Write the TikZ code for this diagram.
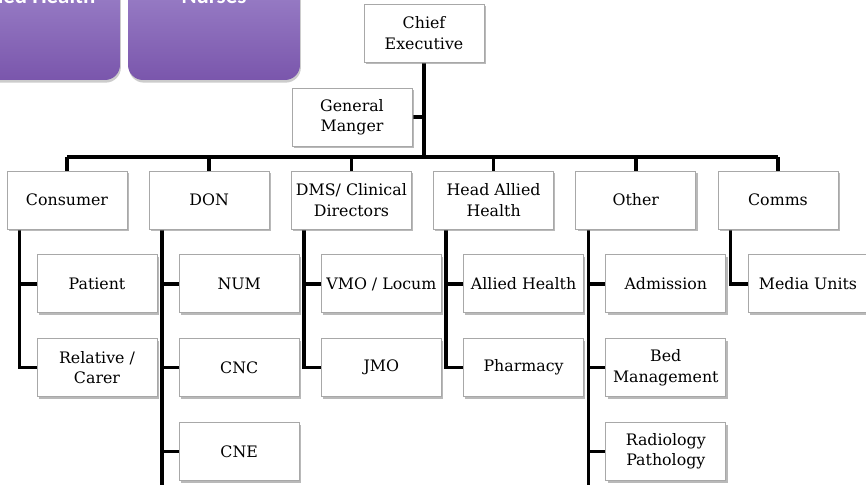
\documentclass[tikz,border=0pt]{standalone}
\usepackage{fontspec}
\setmainfont{DejaVu Serif}
\newfontfamily\tilefont{Carlito}
\usetikzlibrary{positioning,calc,shadows}

\pgfdeclarelayer{bg}
\pgfsetlayers{bg,main}

\definecolor{tiletop}{HTML}{A28ACE}
\definecolor{tilebot}{HTML}{7A56AC}
\definecolor{boxline}{HTML}{A8A8A8}

\tikzset{
  unit/.style={draw=boxline, fill=white, line width=0.5pt,
    minimum width=2.4cm, minimum height=1.16cm, inner sep=1pt,
    align=center, font=\fontsize{9}{11.5}\selectfont,
    drop shadow={shadow xshift=1pt, shadow yshift=-1.2pt, fill=black!50, opacity=0.55}},
  tile/.style={rounded corners=0.3cm, top color=tiletop, bottom color=tilebot,
    minimum width=3.44cm, minimum height=2.4cm,
    drop shadow={shadow xshift=0.5pt, shadow yshift=-1.5pt, fill=black!40, opacity=0.5}},
  tiletext/.style={text=white, font=\tilefont\bfseries\fontsize{13}{15}\selectfont, anchor=base},
  link/.style={line width=2pt, line join=miter},
}

\begin{document}
\begin{tikzpicture}[x=0.02cm, y=-0.02cm, node distance=0.5cm]

  \useasboundingbox (0,0) rectangle (866,484);
  \clip (0,0) rectangle (866,484);

  % purple tiles cut by the top edge
  \node[tile] (alliedtile) at (34,20) {};
  \node[tile] (nursetile) at (214,20) {};
  \node[tiletext] (alliedtext) at (34,3) {Allied Health};
  \node[tiletext] (nursetext) at (214,3) {Nurses};

  % top of the chart
  \node[unit] (ceo) at (424,33) {Chief\\Executive};
  \node[unit] (gm) at (352,117) {General\\Manger};
  \coordinate (bar) at (0,157);
  \coordinate (bottom) at (0,500);

  % second row
  \foreach \nm/\txt [count=\i] in {cons/Consumer, don/DON, dms/{DMS/ Clinical\\Directors},
      hah/{Head Allied\\Health}, oth/Other, com/Comms} {
    \node[unit] (\nm) at (67+142.2*\i-142.2,200) {\txt};
  };

  % third rows
  \node[unit, below=of cons, xshift=0.6cm] (pat) {Patient};
  \node[unit, below=of pat] (rel) {Relative /\\Carer};
  \node[unit, below=of don, xshift=0.6cm] (num) {NUM};
  \node[unit, below=of num] (cnc) {CNC};
  \node[unit, below=of cnc] (cne) {CNE};
  \node[unit, below=of dms, xshift=0.6cm] (vmo) {VMO / Locum};
  \node[unit, below=of vmo] (jmo) {JMO};
  \node[unit, below=of hah, xshift=0.6cm] (ahl) {Allied Health};
  \node[unit, below=of ahl] (pha) {Pharmacy};
  \node[unit, below=of oth, xshift=0.6cm] (adm) {Admission};
  \node[unit, below=of adm] (bed) {Bed\\Management};
  \node[unit, below=of bed] (rad) {Radiology\\Pathology};
  \node[unit, below=of com, xshift=0.6cm] (med) {Media Units};

  \begin{pgfonlayer}{bg}
  \draw[link] (ceo) -- (ceo |- bar);
  \draw[link] (gm) -- (gm -| ceo);
  \draw[link] (cons |- bar) -- (com |- bar);
  \foreach \nm in {cons,don,dms,hah,oth,com} {
    \draw[link] (\nm) -- (\nm |- bar);
    \coordinate (\nm T) at ($(\nm.south west)+(13,0)$);
  };
  \draw[link] (consT) |- (pat);
  \draw[link] (consT) |- (rel);
  \draw[link] (donT) -- (donT |- bottom);
  \foreach \ch in {num,cnc,cne} \draw[link] (donT) |- (\ch);
  \draw[link] (dmsT) |- (vmo);
  \draw[link] (dmsT) |- (jmo);
  \draw[link] (hahT) |- (ahl);
  \draw[link] (hahT) |- (pha);
  \draw[link] (othT) -- (othT |- bottom);
  \foreach \ch in {adm,bed,rad} \draw[link] (othT) |- (\ch);
  \draw[link] (comT) |- (med);
  \end{pgfonlayer}

\end{tikzpicture}
\end{document}
